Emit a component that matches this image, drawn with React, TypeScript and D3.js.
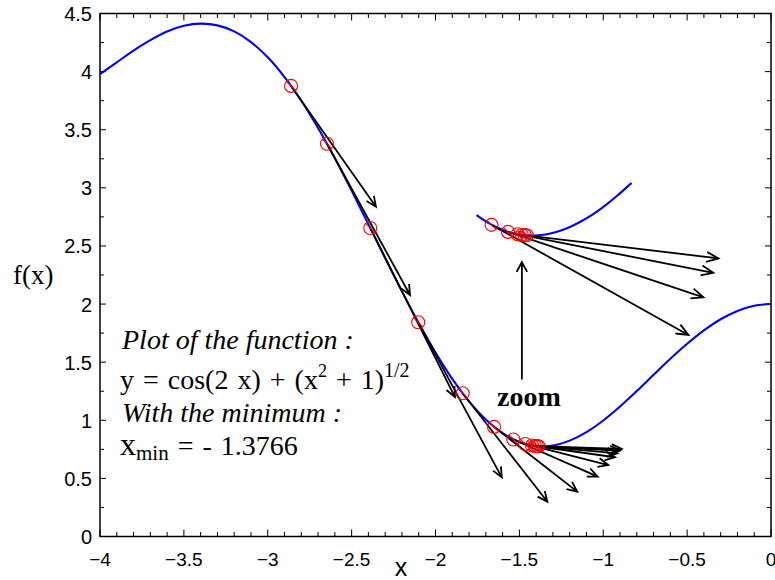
import { useEffect, useRef } from "react";
import * as d3 from "d3";

// f(x) = cos(2x) + sqrt(x^2 + 1), sampled along the main curve
const curveX = [
  -4, -3.9, -3.8, -3.7, -3.6, -3.5, -3.4, -3.3, -3.2, -3.1, -3, -2.9, -2.8, -2.7,
  -2.6, -2.5, -2.4, -2.3, -2.2, -2.1, -2, -1.9, -1.8, -1.7, -1.6, -1.5, -1.4, -1.3,
  -1.2, -1.1, -1, -0.9, -0.8, -0.7, -0.6, -0.5, -0.4, -0.3, -0.2, -0.1, 0,
];
const curveY = [
  3.978, 4.08, 4.181, 4.271, 4.345, 4.394, 4.413, 4.398, 4.346, 4.254, 4.123, 3.953,
  3.749, 3.514, 3.254, 2.976, 2.688, 2.396, 2.109, 1.836, 1.583, 1.356, 1.162, 1.006,
  0.889, 0.813, 0.778, 0.783, 0.825, 0.898, 0.998, 1.118, 1.251, 1.391, 1.529, 1.658,
  1.774, 1.869, 1.941, 1.985, 2.0,
];

// piece of the curve around the minimum, shown enlarged
const zoomCurveX = [
  -1.6, -1.55, -1.5, -1.45, -1.4, -1.35, -1.3, -1.25, -1.2, -1.15, -1.1, -1.05, -1, -0.95, -0.94,
];
const zoomCurveY = [
  0.889, 0.846, 0.813, 0.79, 0.778, 0.776, 0.783, 0.8, 0.825, 0.858, 0.898, 0.945, 0.998,
  1.056, 1.068,
];

// descent iterates and the arrows drawn from them
const stepX = [-2.861, -2.647, -2.389, -2.103, -1.838, -1.651, -1.536, -1.466, -1.425, -1.407, -1.395, -1.386];
const stepY = [3.877, 3.379, 2.655, 1.843, 1.232, 0.943, 0.835, 0.796, 0.783, 0.779, 0.778, 0.777];
const arrowEndX = [-2.355, -2.152, -1.884, -1.605, -1.333, -1.155, -1.033, -0.97, -0.93, -0.916, -0.9, -0.89];
const arrowEndY = [2.838, 2.078, 1.2, 0.509, 0.299, 0.386, 0.515, 0.615, 0.682, 0.716, 0.738, 0.753];

// the zoomed view: iterates from index 6 on, arrows for the first four of them
const zoomFirst = 6;
const zoomArrowEndX = [-0.698, -0.634, -0.592, -0.57];
const zoomArrowEndY = [0.224, 0.433, 0.569, 0.649];

// arrow pointing from the minimum up to the zoomed view
const pointerX = -1.485;
const pointerY = [1.35, 2.36];

const X_MIN = -1.3766;
const F_MIN = 0.776;

const xTicks = [-4, -3.5, -3, -2.5, -2, -1.5, -1, -0.5, 0];
const yTicks = [0, 0.5, 1, 1.5, 2, 2.5, 3, 3.5, 4, 4.5];

const W = 775;
const H = 580;
const left = 100;
const right = 771;
const top = 13.5;
const bottom = 536.5;

const SERIF = "'Liberation Serif', 'Times New Roman', serif";
const SANS = "'Liberation Sans', Arial, Helvetica, sans-serif";

const fmt = (v: number) => (v < 0 ? "\u2212" + String(-v) : String(v));

function arrowPath(x1: number, y1: number, x2: number, y2: number, head = 11, spread = 0.42) {
  const a = Math.atan2(y2 - y1, x2 - x1);
  const p1 = [x2 - head * Math.cos(a - spread), y2 - head * Math.sin(a - spread)];
  const p2 = [x2 - head * Math.cos(a + spread), y2 - head * Math.sin(a + spread)];
  return `M${x1},${y1}L${x2},${y2}M${p1[0]},${p1[1]}L${x2},${y2}L${p2[0]},${p2[1]}`;
}

export default function App() {
  const svgRef = useRef<SVGSVGElement | null>(null);

  useEffect(() => {
    const svg = d3.select(svgRef.current);
    svg.selectAll("*").remove();

    const x = d3.scaleLinear().domain([-4, 0]).range([left, right]);
    const y = d3.scaleLinear().domain([0, 4.5]).range([bottom, top]);

    // enlarged copy around the minimum
    const zx = d3.scaleLinear().domain([X_MIN, X_MIN + 1]).range([529, 529 + 234.85]);
    const zy = d3.scaleLinear().domain([F_MIN, F_MIN + 1]).range([235.5, 235.5 - 180.1]);

    // ticks (inside, on all four sides)
    const ticks = svg.append("g").attr("stroke", "#000").attr("stroke-width", 1);
    d3.range(-40, 1).forEach((k) => {
      const v = k / 10;
      const len = k % 5 === 0 ? 7 : 4.5;
      const px = x(v);
      ticks.append("line").attr("x1", px).attr("x2", px).attr("y1", bottom).attr("y2", bottom - len);
      ticks.append("line").attr("x1", px).attr("x2", px).attr("y1", top).attr("y2", top + len);
    });
    d3.range(0, 19).forEach((k) => {
      const v = k * 0.25;
      const len = k % 2 === 0 ? 6 : 4;
      const py = y(v);
      ticks.append("line").attr("x1", left).attr("x2", left + len).attr("y1", py).attr("y2", py);
      ticks.append("line").attr("x1", right).attr("x2", right - len).attr("y1", py).attr("y2", py);
    });

    // tick labels
    svg
      .append("g")
      .selectAll("text")
      .data(xTicks)
      .join("text")
      .attr("x", (d) => x(d))
      .attr("y", 566)
      .attr("text-anchor", "middle")
      .attr("font-family", SANS)
      .attr("font-size", 19)
      .text(fmt);
    svg
      .append("g")
      .selectAll("text")
      .data(yTicks)
      .join("text")
      .attr("x", 92)
      .attr("y", (d) => y(d) + 7.5)
      .attr("text-anchor", "end")
      .attr("font-family", SANS)
      .attr("font-size", 20)
      .text(fmt);

    // axis titles
    svg
      .append("text")
      .attr("x", 401)
      .attr("y", 576)
      .attr("text-anchor", "middle")
      .attr("font-family", SANS)
      .attr("font-size", 25)
      .text("x");
    svg
      .append("text")
      .attr("x", 13)
      .attr("y", 284)
      .attr("font-family", SERIF)
      .attr("font-size", 27)
      .text("f(x)");

    // main curve
    const line = d3
      .line<number>()
      .x((d) => x(d))
      .y((_, i) => y(curveY[i]))
      .curve(d3.curveCatmullRom.alpha(0.5));
    svg
      .append("path")
      .attr("d", line(curveX))
      .attr("fill", "none")
      .attr("stroke", "#0000ff")
      .attr("stroke-width", 2.1);

    // zoomed curve
    const zline = d3
      .line<number>()
      .x((d) => zx(d))
      .y((_, i) => zy(zoomCurveY[i]))
      .curve(d3.curveCatmullRom.alpha(0.5));
    svg
      .append("path")
      .attr("d", zline(zoomCurveX))
      .attr("fill", "none")
      .attr("stroke", "#0000ff")
      .attr("stroke-width", 2.1);

    // descent arrows
    const arrows = svg
      .append("g")
      .attr("fill", "none")
      .attr("stroke", "#000")
      .attr("stroke-width", 1.8);
    stepX.forEach((sx, i) => {
      arrows.append("path").attr("d", arrowPath(x(sx), y(stepY[i]), x(arrowEndX[i]), y(arrowEndY[i])));
    });
    zoomArrowEndX.forEach((ex, j) => {
      const i = zoomFirst + j;
      arrows
        .append("path")
        .attr("d", arrowPath(zx(stepX[i]), zy(stepY[i]), zx(ex), zy(zoomArrowEndY[j]), 13, 0.4));
    });
    arrows
      .append("path")
      .attr("d", arrowPath(x(pointerX), y(pointerY[0]), x(pointerX), y(pointerY[1]), 11, 0.5));

    // iterate markers: red circle with a slash
    const markers = svg.append("g").attr("fill", "none").attr("stroke", "#ff0000").attr("stroke-width", 1.1);
    const addMarker = (cx: number, cy: number) => {
      const m = markers.append("g").attr("transform", `translate(${cx},${cy})`);
      m.append("circle").attr("r", 6.5);
      m.append("line").attr("x1", -4.6).attr("y1", -4.6).attr("x2", 4.6).attr("y2", 4.6);
    };
    stepX.forEach((sx, i) => addMarker(x(sx), y(stepY[i])));
    stepX.slice(zoomFirst).forEach((sx, j) => addMarker(zx(sx), zy(stepY[zoomFirst + j])));

    // frame
    svg
      .append("rect")
      .attr("x", left)
      .attr("y", top)
      .attr("width", right - left)
      .attr("height", bottom - top)
      .attr("fill", "none")
      .attr("stroke", "#000")
      .attr("stroke-width", 1.5);

    // annotation text
    const note = svg.append("g").attr("font-family", SERIF).attr("font-size", 28).attr("fill", "#000");
    note.append("text").attr("x", 122).attr("y", 349).attr("font-style", "italic").text("Plot of the function :");
    const eq = note.append("text").attr("x", 120).attr("y", 389).attr("word-spacing", 2);
    eq.append("tspan").text("y = cos(2 x) + (x");
    eq.append("tspan").attr("font-size", 18).attr("dy", -12).text("2");
    eq.append("tspan").attr("dy", 12).text(" + 1)");
    eq.append("tspan").attr("font-size", 20).attr("dy", -12).text("1/2");
    note.append("text").attr("x", 122).attr("y", 422).attr("font-style", "italic").text("With the minimum :");
    const xm = note.append("text").attr("x", 120).attr("y", 455);
    xm.append("tspan").attr("font-size", 32).text("x");
    xm.append("tspan").attr("font-size", 21).attr("dy", 5).text("min");
    xm.append("tspan").attr("dy", -5).attr("word-spacing", 2).text(" = - 1.3766");

    svg
      .append("text")
      .attr("x", 497)
      .attr("y", 406)
      .attr("font-family", SERIF)
      .attr("font-weight", "bold")
      .attr("font-size", 28)
      .text("zoom");
  }, []);

  return (
    <svg
      ref={svgRef}
      width={W}
      height={H}
      style={{ position: "absolute", left: 0, top: 0, background: "#fff" }}
    />
  );
}
